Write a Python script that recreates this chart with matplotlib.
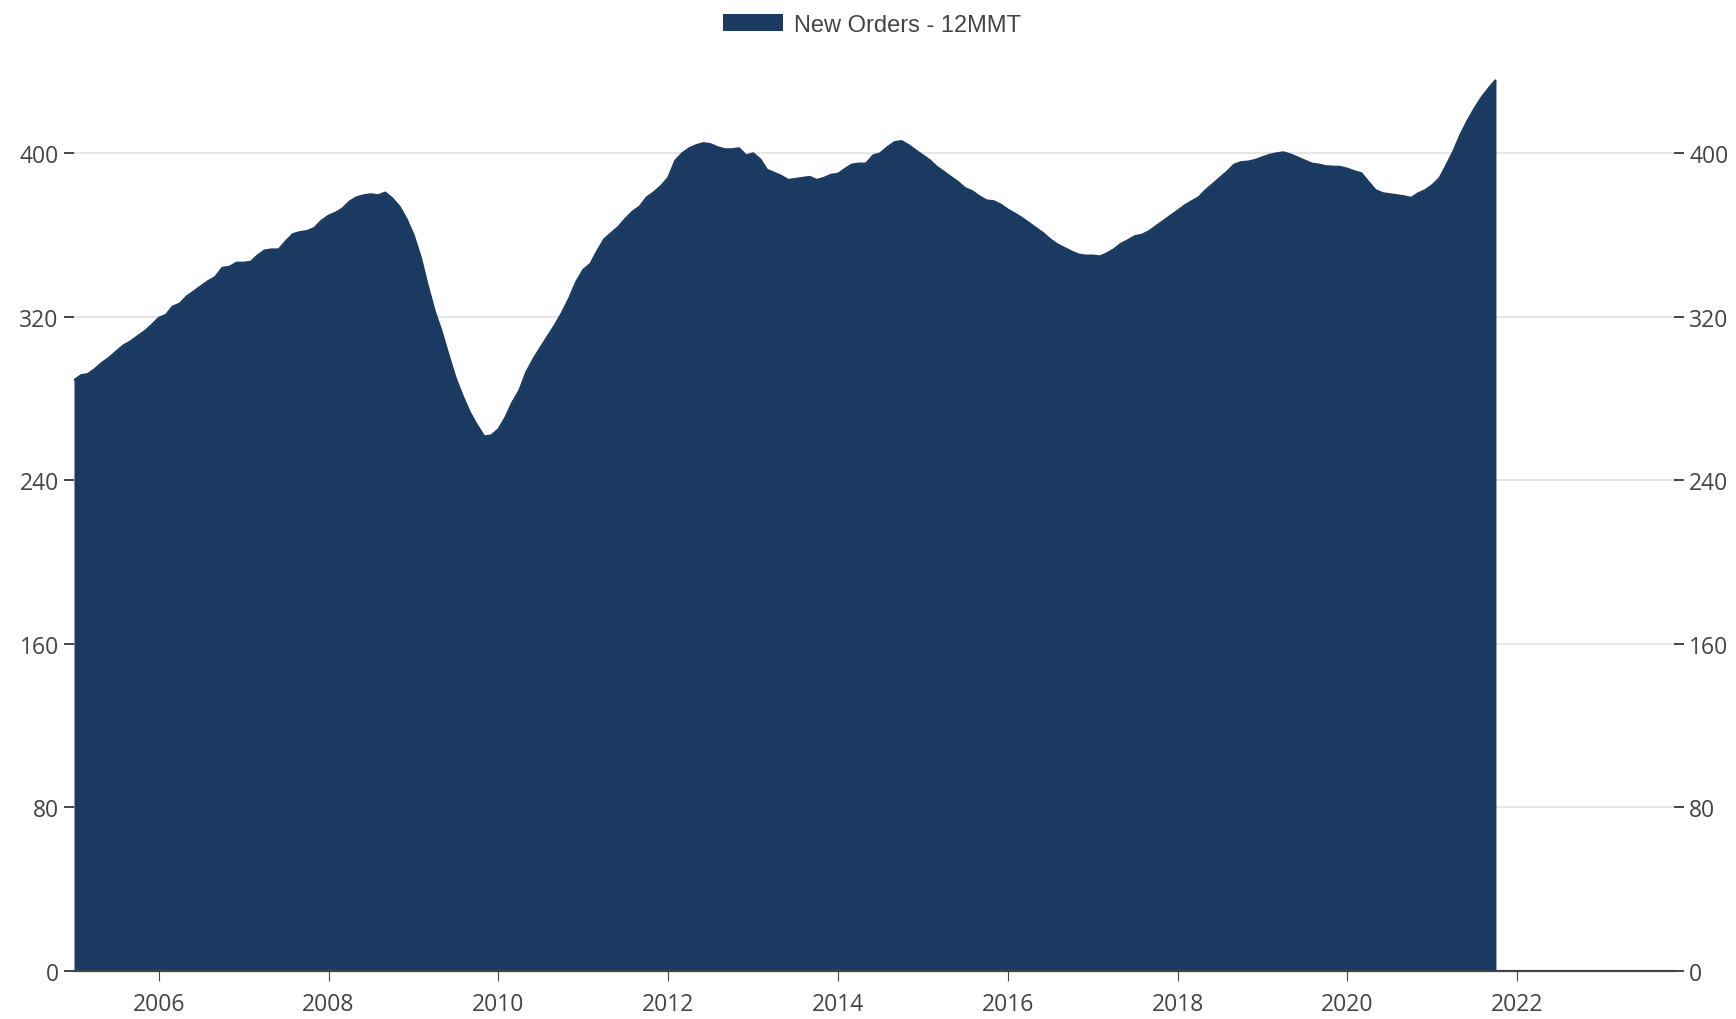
import os
import pandas as pd
import matplotlib

matplotlib.use("Agg")
import matplotlib.pyplot as plt
import matplotlib.dates as mdates
from matplotlib.patches import Patch

# 12MMT new orders, monthly from Jan 2005
new_orders_12mmt = [
    289.0, 291.5, 292.0, 294.5, 297.5, 300.0, 303.0, 306.0, 308.0, 310.5, 313.0, 316.0,   # 2005
    319.5, 321.0, 325.0, 326.5, 330.0, 332.5, 335.0, 337.5, 339.5, 344.0, 344.5, 346.5,   # 2006
    346.5, 347.0, 350.0, 352.5, 353.0, 353.0, 357.0, 360.5, 361.5, 362.0, 363.5, 367.0,   # 2007
    369.5, 371.0, 373.0, 376.5, 378.5, 379.5, 380.0, 379.5, 380.8, 378.0, 374.0, 368.0,   # 2008
    360.0, 349.0, 336.0, 323.0, 313.0, 301.0, 290.0, 281.0, 273.0, 267.0, 261.5, 262.0,   # 2009
    265.0, 271.0, 278.0, 284.0, 293.0, 299.5, 305.0, 310.5, 316.0, 322.0, 329.0, 337.0,   # 2010
    343.0, 346.0, 352.0, 358.0, 361.0, 364.0, 368.0, 371.5, 374.0, 378.5, 381.0, 384.0,   # 2011
    388.0, 396.5, 400.0, 402.5, 404.0, 405.0, 404.5, 403.0, 402.0, 402.0, 402.5, 399.0,   # 2012
    400.0, 397.0, 392.0, 390.5, 389.0, 387.0, 387.5, 388.0, 388.5, 387.0, 388.0, 389.5,   # 2013
    390.0, 392.5, 394.5, 395.0, 395.0, 399.0, 400.0, 403.0, 405.5, 406.0, 404.0, 401.5,   # 2014
    399.0, 396.5, 393.5, 391.0, 388.5, 386.0, 383.0, 381.5, 379.0, 377.0, 376.6, 375.0,   # 2015
    372.5, 370.5, 368.5, 366.0, 363.5, 361.0, 358.0, 355.5, 353.7, 352.0, 350.5, 350.0,   # 2016
    350.0, 349.6, 351.0, 353.0, 355.7, 357.5, 359.5, 360.2, 362.0, 364.5, 367.0, 369.5,   # 2017
    372.0, 374.6, 376.5, 378.5, 382.0, 385.0, 388.0, 391.0, 394.5, 395.7, 396.0, 396.8,   # 2018
    398.1, 399.3, 400.0, 400.5, 399.5, 398.0, 396.5, 395.0, 394.5, 393.7, 393.5, 393.4,   # 2019
    392.5, 391.2, 390.3, 386.0, 382.0, 380.5, 380.0, 379.5, 379.0, 378.2, 380.5, 382.0,   # 2020
    384.5, 388.0, 394.0, 401.0, 409.0, 416.0, 422.0, 427.5, 432.0, 436.0,                 # 2021
]
months = pd.date_range("2005-01-01", periods=len(new_orders_12mmt), freq="MS")

y_ticks = [0, 80, 160, 240, 320, 400]
x_tick_years = list(range(2006, 2023, 2))
series_label = "New Orders - 12MMT"

navy = "#1b3a61"
text_color = "#444444"

W, H = 1736, 1020
fig = plt.figure(figsize=(W / 100, H / 100), dpi=100)
ax = fig.add_axes([74 / W, 48 / H, 1600 / W, 930 / H])

# 网格线放在填充区域之后
ax.set_axisbelow(True)
ax.yaxis.grid(True, color="#e4e4e4", linewidth=1.3)
ax.fill_between(months, 0, new_orders_12mmt, color=navy, linewidth=0, zorder=2)
ax.plot(months, new_orders_12mmt, color=navy, linewidth=1.6,
        solid_capstyle="butt", zorder=3)

ax.set_xlim(pd.Timestamp("2005-01-01"), pd.Timestamp("2023-11-06"))
ax.set_ylim(0, 455)
ax.set_yticks(y_ticks)
ax.set_xticks([pd.Timestamp(f"{y}-01-01") for y in x_tick_years])
ax.xaxis.set_major_formatter(mdates.DateFormatter("%Y"))

for side in ("top", "left", "right"):
    ax.spines[side].set_visible(False)
ax.spines["bottom"].set_color(text_color)
ax.spines["bottom"].set_linewidth(1.6)
ax.spines["bottom"].set_zorder(4)

tick_font = {"family": ["Open Sans", "DejaVu Sans"], "size": 16.5}
ax.tick_params(axis="y", direction="out", length=7, width=1.4, pad=4,
               colors=text_color)
ax.tick_params(axis="x", direction="out", length=7, width=0.8, pad=8,
               colors=text_color)
for lab in ax.get_xticklabels() + ax.get_yticklabels():
    lab.set_fontfamily(tick_font["family"])
    lab.set_fontsize(tick_font["size"])

# 右侧坐标轴，与左侧刻度一致
ax_r = ax.twinx()
ax_r.set_ylim(ax.get_ylim())
ax_r.set_yticks(y_ticks)
for side in ("top", "left", "right", "bottom"):
    ax_r.spines[side].set_visible(False)
ax_r.tick_params(axis="y", direction="out", length=7, width=1.4, pad=4,
                 colors=text_color)
for lab in ax_r.get_yticklabels():
    lab.set_fontfamily(tick_font["family"])
    lab.set_fontsize(tick_font["size"])

handle = Patch(facecolor=navy, edgecolor="none", label=series_label)
leg = fig.legend(handles=[handle], loc="center", bbox_to_anchor=(872 / W, 1 - 26 / H),
                 frameon=False, handlelength=2.55, handleheight=0.72,
                 handletextpad=0.45, borderpad=0,
                 prop={"family": ["Liberation Sans", "DejaVu Sans"], "size": 17})
for t in leg.get_texts():
    t.set_color(text_color)

fig.savefig("out.png", dpi=100)
plt.close(fig)
